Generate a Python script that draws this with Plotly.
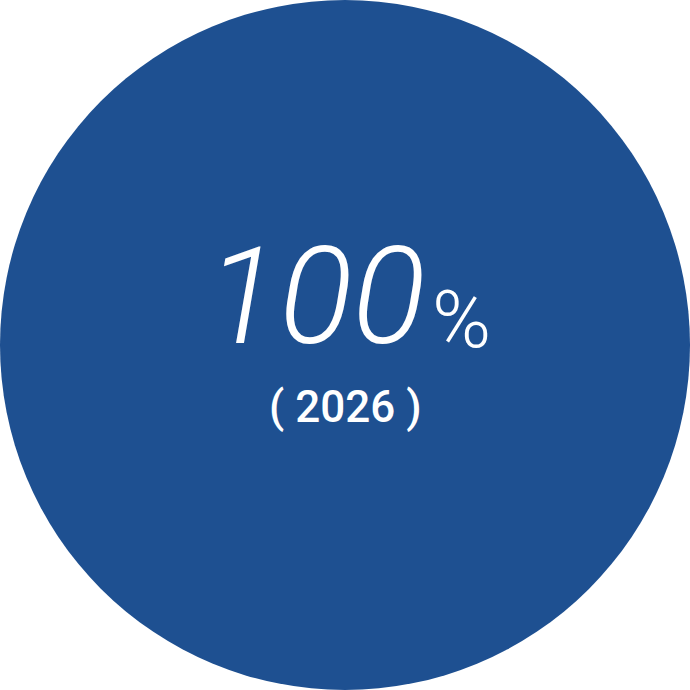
import plotly.graph_objects as go

years = ["2026"]
shares = [100]

W = H = 690
fig = go.Figure(go.Pie(
    labels=years, values=shares, sort=False,
    marker=dict(colors=["#1E5091"], line=dict(width=0)),
    textinfo="none", hoverinfo="skip", showlegend=False,
    domain=dict(x=[0, 1], y=[0, 1]),
))

def px(x, y):
    return x / W, 1 - y / H

ann = []
x, y = px(316, 297)
ann.append(dict(x=x, y=y, xref="paper", yref="paper", text=str(shares[0]), showarrow=False,
                xanchor="center", yanchor="middle",
                font=dict(family="Roboto", size=136, color="white", weight=300, style="italic")))
x, y = px(461, 320)
ann.append(dict(x=x, y=y, xref="paper", yref="paper", text="%", showarrow=False,
                xanchor="center", yanchor="middle",
                font=dict(family="Roboto", size=80, color="white", weight=300)))
x, y = px(345, 407)
ann.append(dict(x=x, y=y, xref="paper", yref="paper", text="( " + years[0] + " )", showarrow=False,
                xanchor="center", yanchor="middle",
                font=dict(family="Roboto", size=44, color="white", weight=500)))

fig.update_layout(width=W, height=H, margin=dict(l=0, r=0, t=0, b=0),
                  paper_bgcolor="white", plot_bgcolor="white", annotations=ann)
fig.write_html("out.html", config={"displayModeBar": False},
               post_script="document.body.style.margin='0';")
